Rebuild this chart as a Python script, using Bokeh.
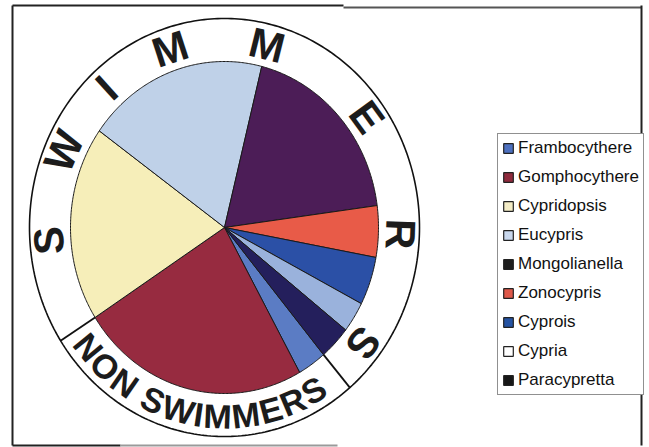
import numpy as np
from bokeh.plotting import figure
from bokeh.models import Range1d, Legend, LegendItem
from bokeh.embed import file_html
from bokeh.resources import INLINE
from bokeh.core.properties import value

# ---------------- data ----------------
genera = ["Frambocythere", "Gomphocythere", "Cypridopsis", "Eucypris",
          "Mongolianella", "Zonocypris", "Cyprois", "Cypria", "Paracypretta"]
shares = [3.0, 24.0, 19.0, 19.0, 19.0, 5.0, 4.7, 3.0, 3.3]
slice_colors = ["#5b7cc4", "#972b40", "#f6eeb9", "#bfd1e8", "#4c1d57",
                "#e85b48", "#2b50a6", "#9ab2dc", "#241f5c"]
legend_colors = ["#4d70bf", "#8f2a3d", "#f3ecc6", "#c9d8ee", "#1e1e1e",
                 "#de5849", "#2553a2", "#ffffff", "#161616"]
non_swimmer_count = 2          # first two genera form the NON SWIMMERS group
ring_word = "SWIMMERS"
band_word = "NON SWIMMERS"

# ---------------- layout / style ----------------
W, H = 649, 447
CX, CY = 224, 227          # pie centre (pixels)
RX, RY = 154, 166          # pie radii
ORX, ORY = 195, 209        # outer ring radii
START = 140.0              # clockwise from 12 o'clock
swim_angles = [266, 294, 318, 342, 14, 54, 92, 128]
MIDX, MIDY = 176, 188
BAND_FONT = 34
BAND_START = 234.5
# advance widths (em) of Liberation Sans Bold, used to space the band letters
adv = {"N": .722, "O": .778, "S": .667, "W": .944, "I": .278, "M": .833,
       "E": .667, "R": .722, " ": .278}

p = figure(width=W, height=H, x_range=Range1d(0, W), y_range=Range1d(H, 0),
           output_backend="svg", toolbar_location=None, min_border=0)
p.axis.visible = False
p.grid.visible = False
p.outline_line_color = None
p.background_fill_color = "white"

# frame (scanned page border)
p.segment(x0=[12, 12, 343, 641, 12, 120], y0=[5, 5, 7, 5, 445, 445],
          x1=[12, 343, 641, 641, 120, 337], y1=[445, 5, 7, 445, 445, 445],
          line_color=["#222222", "#222222", "#555555", "#222222", "#222222", "#9a9a9a"],
          line_width=2)

# outer ring
t = np.radians(np.linspace(0, 360, 361))
p.patch(CX + ORX * np.sin(t), CY - ORY * np.cos(t), fill_color="white",
        line_color="#111111", line_width=1.6)

# pie slices
vals = np.array(shares)
frac = vals / vals.sum()
ends = START + np.cumsum(frac) * 360.0
starts = ends - frac * 360.0
xs, ys = [], []
for a0, a1 in zip(starts, ends):
    tt = np.radians(np.linspace(a0, a1, max(4, int((a1 - a0) * 2))))
    xs.append(np.concatenate([[CX], CX + RX * np.sin(tt), [CX]]).tolist())
    ys.append(np.concatenate([[CY], CY - RY * np.cos(tt), [CY]]).tolist())
p.patches(xs, ys, fill_color=slice_colors, line_color="#1a1a1a", line_width=1.0)

# dividers between swimmers and non swimmers
div = np.radians([starts[0], ends[non_swimmer_count - 1]])
p.segment(x0=CX + RX * np.sin(div), y0=CY - RY * np.cos(div),
          x1=CX + ORX * np.sin(div), y1=CY - ORY * np.cos(div),
          line_color="#111111", line_width=1.8)

# SWIMMERS letters around the ring
sa = np.radians(swim_angles)
p.text(x=CX + MIDX * np.sin(sa), y=CY - MIDY * np.cos(sa), text=list(ring_word),
       angle=[-a for a in sa], text_align="center", text_baseline="middle",
       text_font=value("Liberation Sans"), text_font_style="bold",
       text_font_size="42px", text_color="#1c1c1c")

# NON SWIMMERS letters along the bottom band, spaced by glyph width
def arc_speed(deg):
    r = np.radians(deg)
    return np.hypot(MIDX * np.cos(r), MIDY * np.sin(r)) * np.pi / 180.0

letters, band_angles = [], []
pos = BAND_START
for ch in band_word:
    w = adv[ch] * BAND_FONT
    centre = pos - (w / 2) / arc_speed(pos)
    if ch != " ":
        letters.append(ch)
        band_angles.append(centre)
    pos -= w / arc_speed(centre)
ba = np.radians(band_angles)
p.text(x=CX + MIDX * np.sin(ba), y=CY - (MIDY + 1) * np.cos(ba), text=letters,
       angle=[np.pi - a for a in ba], text_align="center", text_baseline="middle",
       text_font=value("Liberation Sans"), text_font_style="bold",
       text_font_size=f"{BAND_FONT}px", text_color="#1c1c1c")

# legend (swatch renderers sit outside the visible range)
items = []
for g, c in zip(genera, legend_colors):
    r = p.rect(x=[-500], y=[-500], width=1, height=1, fill_color=c,
               line_color="#222222", line_width=1.2)
    items.append(LegendItem(label=g, renderers=[r]))
legend = Legend(items=items, location=(497, 52), border_line_color="#222222",
                border_line_width=1.5, background_fill_color="white", background_fill_alpha=1,
                glyph_width=12, glyph_height=12, label_standoff=4, spacing=9, padding=4,
                margin=0, label_text_font="Liberation Sans", label_text_font_size="17px",
                label_text_color="#111111", label_height=20)
p.add_layout(legend)

open("out.html", "w").write(file_html(p, INLINE))
